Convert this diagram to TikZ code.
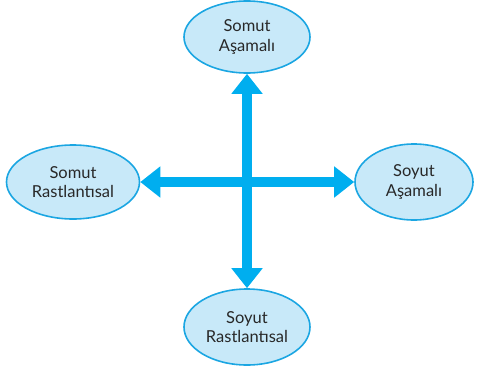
\documentclass[tikz,border=0pt]{standalone}
\usepackage{fontspec}
\setmainfont{Lato}
\usetikzlibrary{shapes.geometric,arrows.meta}
\definecolor{ovalfill}{RGB}{200,233,249}
\definecolor{ovaldraw}{RGB}{27,166,226}
\definecolor{arrowblue}{RGB}{0,174,239}
\definecolor{textgray}{RGB}{40,40,40}
\tikzset{
  oval/.style={ellipse, draw=ovaldraw, fill=ovalfill, line width=1.6pt, inner sep=0pt,
    align=center, text=textgray, font=\fontsize{16.5}{19.5}\selectfont},
  bigarrow/.style={arrowblue, line width=10pt, {Triangle[length=20pt,width=30pt]}-{Triangle[length=20pt,width=30pt]}}
}
\begin{document}
\begin{tikzpicture}[x=1pt, y=-1pt]
  \useasboundingbox (0,0) rectangle (481,370);
  \node[oval, minimum width=126pt, minimum height=72pt] (somutasamali) at (247,37) {Somut\\Aşamalı};
  \node[oval, minimum width=133pt, minimum height=74pt] (somutrast) at (73,182) {Somut\\Rastlantısal};
  \node[oval, minimum width=118pt, minimum height=76pt] (soyutasamali) at (414,182) {Soyut\\Aşamalı};
  \node[oval, minimum width=126pt, minimum height=76pt] (soyutrast) at (247,327) {Soyut\\Rastlantısal};
  % the two crossing arrows
  \draw[bigarrow] (somutasamali.south) -- (soyutrast.north);
  \draw[bigarrow] (somutrast.east) -- (soyutasamali.west);
\end{tikzpicture}
\end{document}
